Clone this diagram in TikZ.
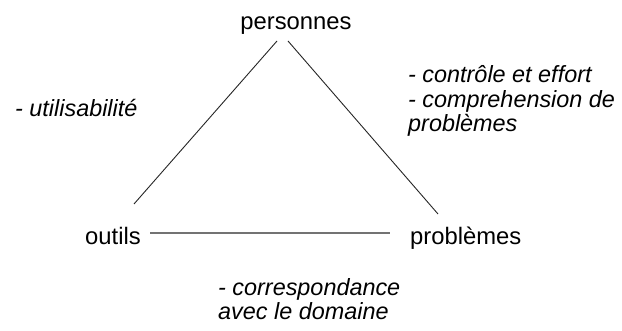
\documentclass[tikz,border=0pt]{standalone}
\usepackage{fontspec}
\setmainfont{Liberation Sans}
\usetikzlibrary{calc}
\tikzset{
  lbl/.style={inner sep=0pt, anchor=base west, font=\fontsize{23.8}{25}\selectfont},
  ilbl/.style={inner sep=0pt, anchor=base west, font=\fontsize{23.4}{25}\selectfont\itshape},
  edge/.style={line width=0.9pt, black!85},
  hedge/.style={line width=1.1pt, black!55}
}
\begin{document}
\begin{tikzpicture}[x=1pt,y=-1pt]
\useasboundingbox[fill=white] (0,0) rectangle (622,331);
\node[lbl, anchor=base] (personnes) at (296,30) {personnes};
\node[lbl] (outils) at (85,245) {outils};
\node[lbl] (problemes) at (410,245) {problèmes};
\node[ilbl] (util) at (15,117) {- utilisabilité};
\node[ilbl] (ctrl) at (408,83) {- contrôle et effort};
\node[ilbl] (compr) at (408,108) {- comprehension de};
\node[ilbl] (probl) at (408,132) {problèmes};
\node[ilbl] (corr) at (218,296) {- correspondance};
\node[ilbl] (avec) at (218,320) {avec le domaine};
\coordinate (pL) at ($(personnes.base)+(-19,11)$);
\coordinate (pR) at ($(personnes.base)+(-8,11)$);
\coordinate (oT) at ($(outils.base west)+(49,-41)$);
\coordinate (oR) at ($(outils.base west)+(65,-12)$);
\coordinate (rT) at ($(problemes.base west)+(28,-31)$);
\coordinate (rL) at ($(problemes.base west)+(-20,-12)$);
\draw[edge] (pL) -- (oT);
\draw[edge] (pR) -- (rT);
\draw[hedge] (oR) -- (rL);
\end{tikzpicture}
\end{document}
